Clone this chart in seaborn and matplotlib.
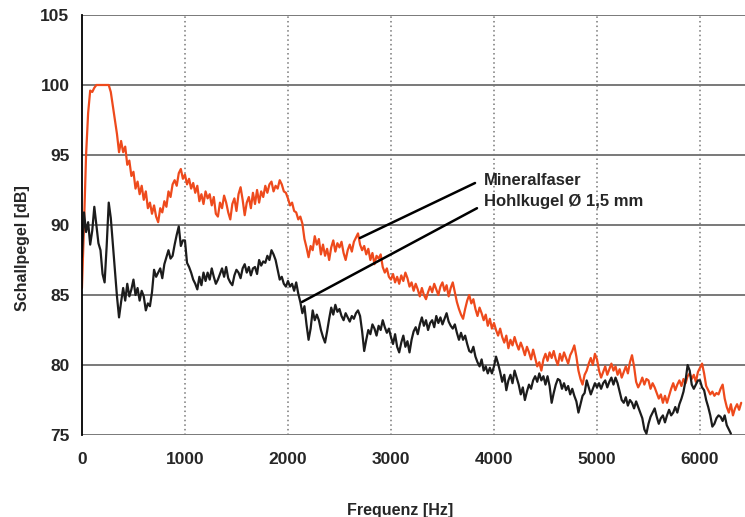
import numpy as np
import pandas as pd
import matplotlib
matplotlib.use("Agg")
import matplotlib.pyplot as plt
import seaborn as sns

# ---------------- data ----------------
freq_step = 20  # Hz
mineralfaser = [
    85.5, 90.0, 95.0, 98.0, 99.6, 99.5, 99.8, 100, 100, 100,
    100, 100, 100, 100, 99.5, 98.5, 97.5, 96.5, 95.2, 96.0,
    95.2, 95.6, 94.3, 94.6, 93.5, 93.8, 92.6, 93.1, 92.2, 92.8,
    91.8, 92.4, 91.2, 91.6, 90.8, 91.4, 90.6, 90.2, 91.2, 90.9,
    91.7, 91.3, 92.4, 92.0, 92.9, 93.2, 92.8, 93.7, 94.0, 93.3,
    93.6, 92.9, 93.3, 92.6, 93.0, 92.3, 92.8, 91.7, 92.2, 91.5,
    92.4, 91.9, 92.2, 91.4, 92.0, 90.8, 90.6, 91.6, 91.2, 92.1,
    91.6, 90.9, 90.4, 91.5, 91.9, 91.0, 92.2, 92.7, 91.8, 90.7,
    91.6, 92.0, 91.2, 92.3, 91.5, 92.5, 91.6, 92.4, 92.0, 92.8,
    92.3, 92.9, 93.1, 92.4, 92.8, 92.6, 93.2, 92.9, 92.4, 92.3,
    91.9, 91.4, 91.6, 91.0, 90.9, 90.4, 90.6, 90.1, 89.0, 88.4,
    87.7, 88.5, 88.2, 89.2, 88.6, 89.0, 87.9, 88.6, 87.8, 88.3,
    87.5, 88.4, 88.9, 88.1, 88.7, 88.4, 88.8, 88.0, 87.5, 88.2,
    88.6, 88.1, 88.8, 89.1, 89.4, 88.6, 88.2, 88.5, 87.9, 88.3,
    87.5, 88.0, 87.2, 87.8, 87.6, 87.9, 87.0, 86.6, 86.9, 86.3,
    86.1, 86.5, 85.9, 86.3, 85.8, 86.4, 86.0, 86.6, 86.2, 85.6,
    85.9, 85.3, 85.8, 85.4, 84.9, 85.5, 85.0, 84.7, 85.2, 85.6,
    85.2, 85.8, 85.4, 85.0, 85.6, 85.9, 85.3, 85.7, 84.9, 85.5,
    85.9, 85.2, 84.5, 84.0, 83.6, 83.3, 84.0, 84.6, 85.0, 84.4,
    84.7, 84.0, 83.5, 84.1, 83.7, 83.2, 83.6, 82.8, 83.3, 82.6,
    83.0, 82.5, 82.1, 82.6, 82.0, 81.6, 82.1, 81.2, 81.8, 81.4,
    82.0, 81.5, 81.1, 81.6, 81.2, 80.7, 81.3, 80.9, 80.4, 81.1,
    80.5, 79.9, 80.2, 79.6, 80.4, 80.8, 80.3, 80.9, 80.5, 81.0,
    80.4, 80.0, 80.8, 80.3, 80.9, 80.5, 80.1, 80.7, 81.0, 81.4,
    80.6, 79.6, 79.0, 78.6, 79.3, 79.6, 80.1, 80.5, 80.0, 80.8,
    80.4, 79.6, 79.1, 79.5, 79.9, 79.3, 79.7, 80.1, 79.6, 79.9,
    79.3, 79.7, 79.1, 79.5, 79.9, 79.4, 80.2, 80.7, 79.9, 78.8,
    78.4, 78.7, 79.1, 78.6, 79.0, 78.9, 78.3, 78.7, 78.4, 78.0,
    77.6, 77.9, 77.3, 77.8, 77.3, 77.8, 78.3, 78.7, 78.2, 78.6,
    78.9, 78.5, 79.0, 78.7, 79.2, 79.4, 79.0, 79.3, 78.8, 79.5,
    79.8, 80.1, 79.4, 78.5, 78.2, 77.9, 78.1, 77.8, 78.0, 77.9,
    78.3, 78.6, 77.6, 77.0, 76.6, 77.2, 76.4, 76.9, 77.2, 76.8,
    77.3,
]
hohlkugel = [
    87.7, 90.9, 89.5, 90.2, 88.6, 89.6, 91.3, 90.0, 88.7, 88.2,
    86.5, 85.9, 88.5, 91.6, 90.5, 88.6, 86.6, 84.9, 83.4, 84.5,
    85.5, 84.6, 85.8, 84.9, 85.4, 86.1, 85.0, 85.5, 84.6, 85.3,
    84.9, 83.9, 84.4, 84.2, 85.2, 86.8, 86.3, 86.6, 86.9, 86.2,
    87.2, 87.7, 88.2, 87.6, 87.8, 88.6, 89.3, 89.9, 88.5, 88.9,
    88.9, 87.3, 87.0, 86.6, 86.1, 85.8, 85.4, 86.3, 85.7, 86.6,
    86.0, 86.6, 86.1, 86.9, 86.3, 85.8, 86.1, 86.5, 86.9, 86.3,
    87.0, 86.2, 85.9, 85.7, 86.4, 86.8, 86.6, 86.2, 86.9, 87.2,
    86.6, 87.0, 86.4, 86.9, 87.0, 86.5, 87.5, 87.1, 87.4, 87.3,
    87.8, 87.5, 88.2, 87.9, 87.5, 86.8, 86.1, 86.3, 85.8, 85.6,
    86.0, 85.6, 85.8, 85.3, 85.9, 85.1, 84.5, 83.7, 84.2, 82.9,
    81.8, 82.6, 83.9, 83.2, 83.6, 83.2, 82.5, 82.0, 81.6, 82.4,
    83.3, 84.1, 83.6, 84.3, 83.8, 84.0, 83.5, 83.2, 83.7, 83.4,
    83.1, 83.5, 83.3, 83.7, 83.9, 83.5, 82.4, 81.0, 81.8, 82.5,
    82.2, 82.9, 82.6, 82.1, 82.8, 82.5, 83.2, 82.7, 82.3, 82.6,
    82.0, 81.5, 82.2, 81.3, 80.9, 81.6, 82.1, 81.3, 81.7, 80.9,
    81.8, 82.4, 82.7, 82.2, 82.9, 83.4, 82.8, 83.2, 82.5, 83.0,
    83.2, 82.7, 83.5, 83.0, 83.4, 82.9, 83.3, 83.7, 83.1, 82.8,
    82.6, 82.9, 82.3, 81.8, 82.3, 81.8, 82.1, 81.5, 81.0, 80.9,
    81.3, 80.6, 80.2, 79.9, 80.4, 79.6, 79.9, 79.4, 79.8, 79.4,
    79.9, 80.6, 80.1, 79.5, 78.8, 79.3, 78.2, 78.9, 79.3, 78.7,
    79.6, 79.1, 78.6, 77.9, 78.4, 77.5, 78.1, 78.6, 78.3, 78.9,
    79.2, 78.8, 79.4, 78.9, 79.2, 78.6, 79.2, 78.5, 77.3, 78.0,
    78.6, 79.0, 78.9, 78.3, 78.7, 78.2, 78.5, 77.9, 78.3, 77.8,
    77.4, 76.6, 77.2, 77.8, 78.0, 78.9, 78.4, 77.9, 78.3, 78.7,
    78.4, 78.7, 78.3, 78.7, 78.9, 78.4, 78.8, 79.1, 78.6, 79.1,
    78.7, 78.1, 77.5, 77.3, 77.7, 77.1, 77.5, 77.3, 76.9, 77.4,
    77.0, 76.6, 76.2, 75.4, 75.1, 75.8, 76.3, 76.6, 76.9, 76.3,
    75.8, 76.2, 76.4, 75.9, 76.4, 76.8, 76.4, 76.6, 77.0, 76.6,
    77.2, 77.6, 78.1, 78.9, 80.0, 79.6, 78.6, 78.3, 78.6, 78.9,
    78.9, 78.4, 78.2, 77.5, 77.0, 76.4, 75.6, 75.8, 76.2, 76.4,
    76.3, 76.0, 76.4, 75.7, 75.4, 75.1,
]
series_names = ["Mineralfaser", "Hohlkugel Ø 1,5 mm"]
x_ticks = [0, 1000, 2000, 3000, 4000, 5000, 6000]
y_ticks = [75, 80, 85, 90, 95, 100, 105]

freq_mf = np.arange(len(mineralfaser)) * freq_step
freq_hk = np.arange(len(hohlkugel)) * freq_step
df = pd.concat([
    pd.DataFrame({"Frequenz": freq_mf, "Pegel": mineralfaser, "Serie": series_names[0]}),
    pd.DataFrame({"Frequenz": freq_hk, "Pegel": hohlkugel, "Serie": series_names[1]}),
])

# ---------------- style ----------------
sns.set_style("white")
plt.rcParams["font.family"] = ["Liberation Sans", "DejaVu Sans"]

fig = plt.figure(figsize=(7.45, 5.17), dpi=100)
ax = fig.add_axes([0.110, 0.1586, 0.890, 0.8124])

palette = {series_names[0]: "#ee4a1c", series_names[1]: "#1c1c1c"}
sns.lineplot(data=df, x="Frequenz", y="Pegel", hue="Serie", palette=palette,
             linewidth=1.6, ax=ax, legend=False, zorder=3)

ax.set_xlim(0, 6437)
ax.set_ylim(75, 105)
ax.set_xticks(x_ticks)
ax.set_yticks(y_ticks)
ax.set_xticklabels([str(t) for t in x_ticks], fontsize=12.5, fontweight="bold")
ax.set_yticklabels([str(t) for t in y_ticks], fontsize=12.5, fontweight="bold")

for y in y_ticks:
    ax.axhline(y, color="#555555", lw=1.1, zorder=1)
for x in x_ticks[1:]:
    ax.axvline(x, color="#777777", lw=1.1, ls=(0, (1, 2)), zorder=1)

for s in ["top", "right", "bottom"]:
    ax.spines[s].set_visible(False)
ax.spines["left"].set_color("black")
ax.spines["left"].set_linewidth(1.3)
ax.spines["left"].set_zorder(4)
ax.tick_params(axis="both", direction="out", length=4, width=1, color="#444444", pad=5)
ax.tick_params(axis="x", pad=8)

ax.set_xlabel("Frequenz [Hz]", fontsize=11.5, fontweight="bold")
ax.set_ylabel("Schallpegel [dB]", fontsize=11.5, fontweight="bold")
ax.xaxis.set_label_coords(0.48, -0.162)
ax.yaxis.set_label_coords(-0.078, 0.445)

# annotation leaders
ax.plot([3816, 2699], [93.0, 89.07], color="black", lw=1.8, zorder=5)
ax.plot([3835, 2136], [91.2, 84.5], color="black", lw=1.8, zorder=5)
ax.text(3905, 93.2, series_names[0], fontsize=12, fontweight="bold", va="center", ha="left")
ax.text(3905, 91.7, series_names[1], fontsize=12, fontweight="bold", va="center", ha="left")

fig.savefig("out.png", dpi=100)
